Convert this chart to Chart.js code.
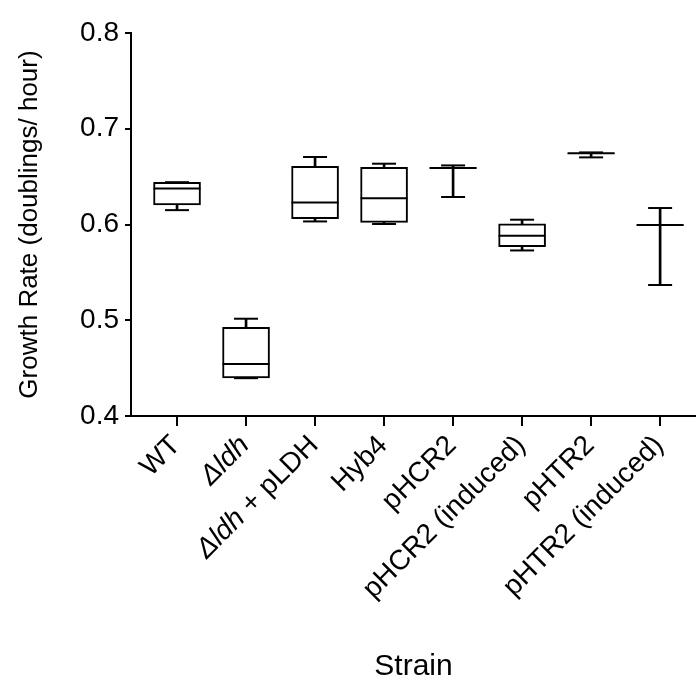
<!DOCTYPE html>
<html>
<head>
<meta charset="utf-8">
<script src="https://cdn.jsdelivr.net/npm/chart.js@4.4.1/dist/chart.umd.min.js"></script>
<style>
  html, body { margin: 0; padding: 0; background: #fff; }
  #wrap { width: 696px; height: 679px; }
</style>
</head>
<body>
<div id="wrap"><canvas id="myChart" width="696" height="679"></canvas></div>
<script>
// strains (x categories), label parts: [text, italic]
var categories = ['WT', 'Δldh', 'Δldh + pLDH', 'Hyb4', 'pHCR2', 'pHCR2 (induced)', 'pHTR2', 'pHTR2 (induced)']
var labelParts = [
    [['WT', false]],
    [['Δldh', true]],
    [['Δldh', true], [' + pLDH', false]],
    [['Hyb4', false]],
    [['pHCR2', false]],
    [['pHCR2 (induced)', false]],
    [['pHTR2', false]],
    [['pHTR2 (induced)', false]]
]

// box plot values
var whiskerLow = [0.615, 0.4395, 0.6032, 0.6005, 0.6287, 0.5729, 0.6701, 0.5368]
var q1 = [0.6204, 0.4397, 0.6061, 0.6022, 0.6589, 0.5768, 0.6742, 0.5994]
var median = [0.6377, 0.4543, 0.6231, 0.6273, 0.659, 0.5883, 0.6743, 0.5995]
var q3 = [0.644, 0.4925, 0.6607, 0.6596, 0.6591, 0.6008, 0.6744, 0.5996]
var whiskerHigh = [0.6442, 0.5016, 0.6705, 0.6635, 0.6617, 0.605, 0.6753, 0.6172]

var yTicks = [0.4, 0.5, 0.6, 0.7, 0.8]

var fontName = "'Liberation Sans', Arial, Helvetica, sans-serif"
var labelSize = 28

//monta os pontos
var whiskers = categories.map(function (c, i) { return { x: i, y: [whiskerLow[i], whiskerHigh[i]] } })
var boxes = categories.map(function (c, i) { return { x: i, y: [q1[i], q3[i]] } })
var medians = categories.map(function (c, i) { return { x: i, y: median[i] } })
var caps = []
categories.forEach(function (c, i) {
    caps.push({ x: i, y: whiskerLow[i] })
    caps.push({ x: i, y: whiskerHigh[i] })
})

// desenha os rotulos do eixo x (com italico)
var xLabels = {
    id: 'xLabels',
    afterDraw: function (chart) {
        var ctx = chart.ctx
        var xs = chart.scales.x
        ctx.save()
        ctx.fillStyle = '#000'
        ctx.textBaseline = 'middle'
        ctx.textAlign = 'left'
        labelParts.forEach(function (parts, i) {
            var px = xs.getPixelForValue(i)
            var total = 0
            parts.forEach(function (p) {
                ctx.font = (p[1] ? 'italic ' : '') + labelSize + 'px ' + fontName
                total += ctx.measureText(p[0]).width
            })
            ctx.save()
            ctx.translate(px - 1, xs.top + 25)
            ctx.rotate(-Math.PI / 4)
            var pos = -total
            parts.forEach(function (p) {
                ctx.font = (p[1] ? 'italic ' : '') + labelSize + 'px ' + fontName
                ctx.fillText(p[0], pos, 0)
                pos += ctx.measureText(p[0]).width
            })
            ctx.restore()
        })
        ctx.restore()
    }
}

let myChart = document.getElementById('myChart').getContext('2d');
let boxChart = new Chart(myChart, {
    type: 'bar',
    data: {
        datasets: [{
            // bigodes
            type: 'bar',
            data: whiskers,
            backgroundColor: '#000',
            barThickness: 2,
            grouped: false,
            order: 3
        }, {
            // caixas
            type: 'bar',
            data: boxes,
            backgroundColor: '#fff',
            borderColor: '#000',
            borderWidth: 2,
            borderSkipped: false,
            barThickness: 47,
            grouped: false,
            order: 2
        }, {
            // mediana
            type: 'scatter',
            data: medians,
            pointStyle: 'line',
            pointRadius: 23.5,
            borderColor: '#000',
            borderWidth: 2,
            order: 1
        }, {
            // pontas dos bigodes
            type: 'scatter',
            data: caps,
            pointStyle: 'line',
            pointRadius: 12,
            borderColor: '#000',
            borderWidth: 2,
            order: 0
        }]
    },
    options: {
        responsive: false,
        animation: false,
        layout: { autoPadding: false, padding: { top: 33, right: 0, left: 0, bottom: 0 } },
        plugins: {
            legend: { display: false },
            tooltip: { enabled: false }
        },
        scales: {
            x: {
                type: 'linear',
                offset: false,
                min: -0.667,
                max: 7.52,
                afterBuildTicks: function (scale) {
                    scale.ticks = categories.map(function (c, i) { return { value: i } })
                },
                afterFit: function (scale) { scale.height = 263 },
                ticks: { display: false },
                grid: {
                    display: true,
                    offset: false,
                    drawOnChartArea: false,
                    drawTicks: true,
                    tickLength: 10,
                    color: '#000',
                    lineWidth: 2
                },
                border: { display: true, color: '#000', width: 2 },
                title: {
                    display: true,
                    text: 'Strain',
                    color: '#000',
                    font: { family: fontName, size: 30, lineHeight: 1 },
                    padding: { top: 0, bottom: -3 }
                }
            },
            y: {
                min: 0.4,
                max: 0.8,
                afterBuildTicks: function (scale) {
                    scale.ticks = yTicks.map(function (v) { return { value: v } })
                },
                afterFit: function (scale) { scale.width = 131 },
                ticks: {
                    color: '#000',
                    padding: 6,
                    font: { family: fontName, size: 28 },
                    callback: function (v) { return v.toFixed(1) }
                },
                grid: {
                    display: true,
                    drawOnChartArea: false,
                    drawTicks: true,
                    tickLength: 6,
                    color: '#000',
                    lineWidth: 2
                },
                border: { display: true, color: '#000', width: 2 },
                title: {
                    display: true,
                    text: 'Growth Rate (doublings/ hour)',
                    color: '#000',
                    font: { family: fontName, size: 26, lineHeight: 1 },
                    padding: { top: 17, bottom: 0 }
                }
            }
        }
    },
    plugins: [xLabels]
});
</script>
</body>
</html>
